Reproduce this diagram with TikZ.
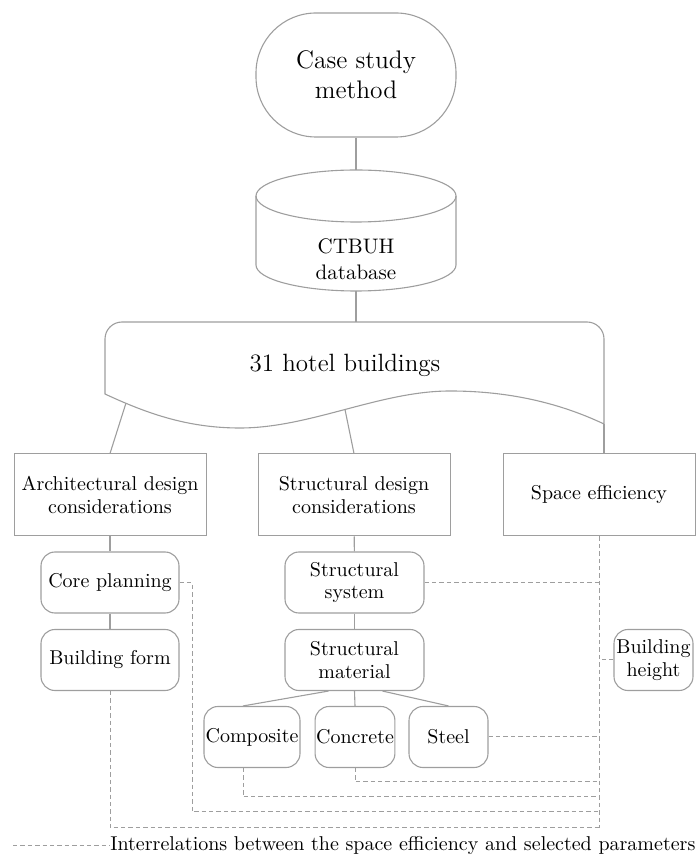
\documentclass[tikz,border=0pt]{standalone}
\usetikzlibrary{calc}

\definecolor{framegray}{RGB}{158,158,158}

\tikzset{
  box/.style={draw=framegray, line width=0.5pt, minimum width=96pt, minimum height=41pt},
  param/.style={draw=framegray, line width=0.55pt, rounded corners=7pt,
                minimum height=30.5pt, inner xsep=0.5pt},
  link/.style={draw=framegray, line width=0.55pt},
  relation/.style={draw=framegray, line width=0.5pt, dash pattern=on 2.2pt off 1.5pt},
}

\begin{document}
\begin{tikzpicture}[x=0.5pt, y=0.5pt, every node/.style={align=center},
                    font=\fontsize{10}{11.2}\selectfont]
    \useasboundingbox (0,0) rectangle (698,863);

    % method and database
    \node[draw=framegray, line width=0.55pt, rounded corners=30pt, minimum width=100pt,
          minimum height=62pt, font=\fontsize{12.7}{15}\selectfont] (case) at (356,788) {Case study\\method};

    \draw[link] (256,667) -- (256,598) arc[start angle=180, end angle=360, x radius=100, y radius=26] -- (456,667);
    \draw[link] (356,667) ellipse[x radius=100, y radius=26];
    \node[font=\fontsize{10.5}{13}\selectfont] (db) at (356,604) {CTBUH\\database};
    \coordinate (dbtop) at (356,693);
    \coordinate (dbbot) at (356,572);

    % the 31 buildings
    \draw[link] (105,469) -- (105,524) arc[start angle=180, end angle=90, radius=17]
        -- (587,541) arc[start angle=90, end angle=0, radius=17] -- (604,439)
        .. controls (570,455) and (520,472) .. (450,472)
        .. controls (380,472) and (310,435) .. (240,435)
        .. controls (190,435) and (150,448) .. (105,469) -- cycle;
    \node[font=\fontsize{12.5}{15}\selectfont] (hotel) at (345,498) {31 hotel buildings};
    \coordinate (hoteltop) at (356,541);
    \coordinate (wl) at (126,460);
    \coordinate (wm) at (345,453.5);
    \coordinate (wr) at (604,439);

    \draw[link] (case) -- (dbtop);
    \draw[link] (dbbot) -- (hoteltop);

    % considerations
    \node[box] (arch) at (110,368) {Architectural design\\considerations};
    \node[box] (sd)   at (354,368) {Structural design\\considerations};
    \node[box] (se)   at (599,368) {Space efficiency};

    \draw[link] (wl) -- (arch.north);
    \draw[link] (wm) -- (sd.north);
    \draw[link] (wr) -- (wr |- se.north);

    % parameters
    \node[param, minimum width=69pt]   (core)   at (110,280.5) {Core planning};
    \node[param, minimum width=69pt]   (form)   at (110,203)   {Building form};
    \node[param, minimum width=69.5pt] (ssys)   at (354.5,280.5) {Structural\\system};
    \node[param, minimum width=69.5pt] (smat)   at (354.5,203)   {Structural\\material};
    \node[param, minimum width=39.5pt] (height) at (653.5,203)   {Building\\height};
    \node[param, minimum width=48pt]   (comp)   at (252,126)   {Composite};
    \node[param, minimum width=39pt]   (conc)   at (355,126)   {Concrete};
    \node[param, minimum width=39.5pt] (steel)  at (448.5,126) {Steel};

    \draw[link] (arch) -- (core);
    \draw[link] (core) -- (form);
    \draw[link] (sd) -- (ssys);
    \draw[link] (ssys) -- (smat);
    \draw[link] ([xshift=-13pt]smat.south) -- ([xshift=-4.5pt]comp.north);
    \draw[link] (smat.south) -- (conc.north);
    \draw[link] ([xshift=14pt]smat.south) -- (steel.north);

    % interrelations with space efficiency
    \coordinate (busend) at (599,35);
    \draw[relation] (se.south) -- (busend);
    \draw[relation] (core.east) -| (192,51) -- (se.south |- 192,51);
    \draw[relation] (form.south) |- (busend);
    \draw[relation] (ssys.east) -- (ssys.east -| se.south);
    \draw[relation] (height.west) -- (height.west -| se.south);
    \draw[relation] (steel.east) -- (steel.east -| se.south);
    \draw[relation] (conc.south) |- (se.south |- 0,81);
    \draw[relation] ([xshift=-4.5pt]comp.south) |- (se.south |- 0,66);

    % legend
    \coordinate (legstart) at (13,17);
    \node[anchor=west, inner sep=0pt] (legtxt) at (110,17) {Interrelations between the space efficiency and selected parameters};
    \draw[relation] (legstart) -- (legtxt.west);
\end{tikzpicture}
\end{document}
